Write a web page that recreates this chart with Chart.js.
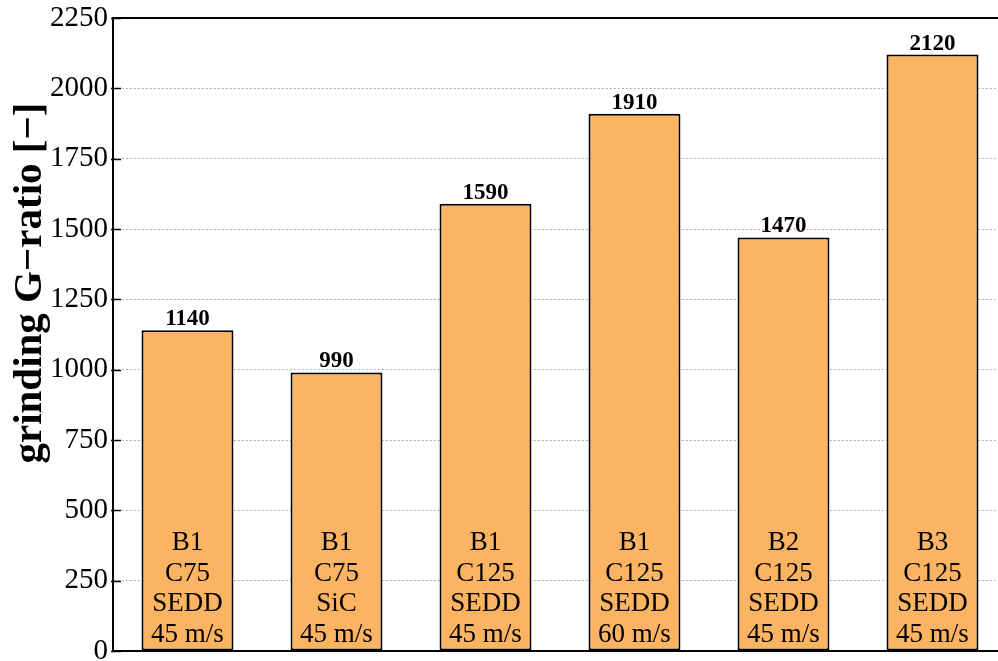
<!DOCTYPE html>
<html>
<head>
<meta charset="utf-8">
<title>grinding G-ratio</title>
<script src="https://cdn.jsdelivr.net/npm/chart.js@4.4.0/dist/chart.umd.min.js"></script>
<style>
	body { margin: 0; overflow: hidden; background: #fff; }
	canvas { display: block; }
</style>
</head>
<body>
<canvas id="gratio" width="1012" height="661"></canvas>
<script>
// G-ratio per wheel / dresser / speed combination
const values = [1140, 990, 1590, 1910, 1470, 2120];
const bonds = ["B1", "B1", "B1", "B1", "B2", "B3"];
const grains = ["C75", "C75", "C125", "C125", "C125", "C125"];
const dressers = ["SEDD", "SiC", "SEDD", "SEDD", "SEDD", "SEDD"];
const speeds = ["45 m/s", "45 m/s", "45 m/s", "60 m/s", "45 m/s", "45 m/s"];
const yTicks = [0, 250, 500, 750, 1000, 1250, 1500, 1750, 2000, 2250];
const yTitle = "grinding G\u2212ratio [\u2212]";

const serif = "'Liberation Serif', 'Times New Roman', serif";
const labels = bonds.map(function(b, i) {
	return [b, grains[i], dressers[i], speeds[i]];
});

// frame on top, inner tick marks, axis title, value and category labels
const decor = {
	id: "decor",
	afterDatasetsDraw: function(chart) {
		const ctx = chart.ctx;
		const area = chart.chartArea;
		const y = chart.scales.y;
		const meta = chart.getDatasetMeta(0);

		ctx.save();
		ctx.strokeStyle = "#000";
		ctx.lineWidth = 2;
		ctx.beginPath();
		ctx.moveTo(area.left, area.top);
		ctx.lineTo(area.right, area.top);
		ctx.stroke();

		ctx.lineWidth = 1.5;
		yTicks.forEach(function(t) {
			const py = Math.round(y.getPixelForValue(t)) + 0.5;
			ctx.beginPath();
			ctx.moveTo(area.left - 2, py);
			ctx.lineTo(area.left + 8, py);
			ctx.stroke();
		});

		ctx.fillStyle = "#000";
		ctx.textAlign = "center";
		meta.data.forEach(function(bar, i) {
			ctx.font = "bold 23px " + serif;
			ctx.textBaseline = "alphabetic";
			ctx.fillText(String(values[i]), bar.x, bar.y - 5);

			ctx.font = "27px " + serif;
			ctx.textBaseline = "middle";
			labels[i].forEach(function(line, k) {
				ctx.fillText(line, bar.x, area.bottom - 16 - (3 - k) * 30.7);
			});
		});

		// rotated y title
		ctx.translate(30, 283);
		ctx.rotate(-Math.PI / 2);
		ctx.font = "bold 41px " + serif;
		ctx.textBaseline = "middle";
		ctx.fillText(yTitle, 0, 0);
		ctx.restore();
	}
};

const myChart = document.getElementById("gratio");
new Chart(myChart, {
	type: "bar",
	data: {
		labels: labels,
		datasets: [{
			data: values,
			backgroundColor: "#fdb462",
			borderColor: "#000",
			borderWidth: 2,
			borderSkipped: false,
			barPercentage: 0.617,
			categoryPercentage: 1
		}]
	},
	options: {
		responsive: false,
		animation: false,
		layout: { padding: { top: 18, right: 5, bottom: 10, left: 0 } },
		plugins: {
			legend: { display: false },
			tooltip: { enabled: false }
		},
		scales: {
			x: {
				ticks: { display: false, padding: 0 },
				grid: { display: false, drawTicks: false },
				border: { display: true, color: "#000", width: 2 },
				afterFit: function(scale) { scale.height = 0; }
			},
			y: {
				min: 0,
				max: 2250,
				afterBuildTicks: function(scale) {
					scale.ticks = yTicks.map(function(v) { return { value: v }; });
				},
				ticks: {
					padding: 5,
					color: "#000",
					font: { family: serif, size: 29, lineHeight: 0.2 },
					callback: function(v) { return String(v); }
				},
				grid: { color: "#999", lineWidth: 1, drawTicks: false },
				border: { display: true, color: "#000", width: 2, dash: [1.5, 2.5] },
				afterFit: function(scale) { scale.width = 113; }
			}
		}
	},
	plugins: [decor]
});
</script>
</body>
</html>
